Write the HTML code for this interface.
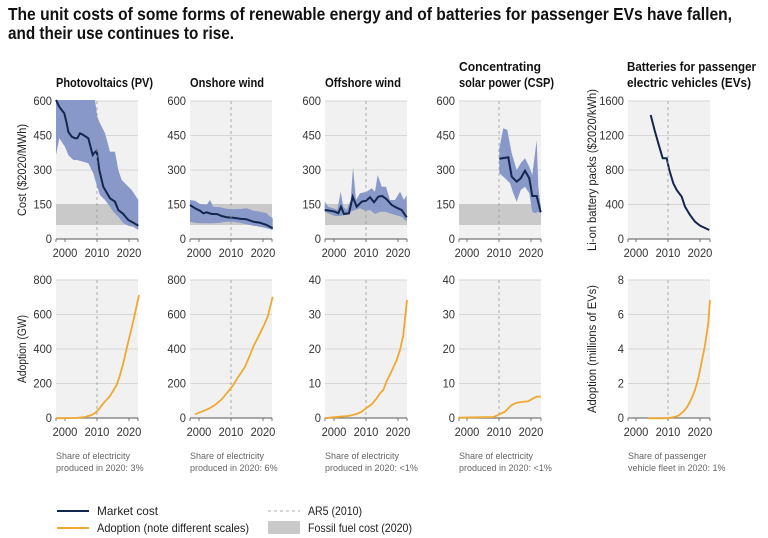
<!DOCTYPE html>
<html><head><meta charset="utf-8">
<style>
html,body{margin:0;padding:0;background:#fff;}
svg{display:block;font-family:"Liberation Sans Narrow","Liberation Sans",sans-serif;}
</style></head>
<body>
<svg id="s" width="768" height="538" viewBox="0 0 768 538" xmlns="http://www.w3.org/2000/svg">
<text x="8" y="20" font-size="17.5" font-weight="bold" fill="#111" textLength="724" lengthAdjust="spacingAndGlyphs">The unit costs of some forms of renewable energy and of batteries for passenger EVs have fallen,</text>
<text x="8" y="39" font-size="17.5" font-weight="bold" fill="#111" textLength="226" lengthAdjust="spacingAndGlyphs">and their use continues to rise.</text>
<g id="g"></g>
</svg>
<script>
var NS="http://www.w3.org/2000/svg",G=document.getElementById("g");
function el(t,a,txt){var e=document.createElementNS(NS,t);for(var k in a)e.setAttribute(k,a[k]);if(txt!==undefined)e.textContent=txt;G.appendChild(e);return e;}
function pts(list,ox,oy){return list.map(function(p){return (ox+p[0]/3).toFixed(1)+","+(oy+p[1]/3).toFixed(1);}).join(" ");}
var panels=[{x:56,m:97,lx:52},{x:190,m:231,lx:186},{x:325,m:366,lx:321},{x:459,m:499,lx:455},{x:628,m:668,lx:624}];
var W=82,BLUE="#8798c9",NAVY="#13264e",OR="#f0a830";
function t(x,y,s,txt,extra){var a={x:x,y:y,"font-size":s,fill:"#111"};for(var k in extra)a[k]=extra[k];return el("text",a,txt);}
function tl(x,y,txt,len){return t(x,y,13,txt,{"font-weight":"bold",textLength:len,lengthAdjust:"spacingAndGlyphs"});}
tl(56,87,"Photovoltaics (PV)",97);
tl(190,87,"Onshore wind",74);
tl(325,87,"Offshore wind",76);
tl(459,71,"Concentrating",82);
tl(459,87,"solar power (CSP)",95);
tl(627,71,"Batteries for passenger",129);
tl(627,87,"electric vehicles (EVs)",124);
function lab(x,y,txt,anchor){var n=txt.length;return t(x,y,11.5,txt,{"text-anchor":anchor,fill:"#333",textLength:n*6.2,lengthAdjust:"spacingAndGlyphs"});}
function frame(p,top,bot,labels){
  el("rect",{x:p.x,y:top,width:W,height:bot-top,fill:"#f1f1f1"});
  for(var i=0;i<labels.length;i++){
    var y=bot-(bot-top)*i/(labels.length-1);
    if(i>0)el("line",{x1:p.x,x2:p.x+W,y1:y,y2:y,stroke:"#d6d6d6","stroke-width":1});
    lab(p.lx,y+4,labels[i],"end");
  }
}
function axis(p,top,bot){
  el("line",{x1:p.m,x2:p.m,y1:top,y2:bot,stroke:"#999","stroke-width":0.8,"stroke-dasharray":"3,3"});
  el("line",{x1:p.x,x2:p.x+W,y1:bot,y2:bot,stroke:"#777","stroke-width":1.2});
  [-32,0,32].forEach(function(d,i){var x=p.m+d;el("line",{x1:x,x2:x,y1:bot,y2:bot+3,stroke:"#777"});
    lab(x,bot+18,["2000","2010","2020"][i],"middle");});
  el("line",{x1:p.x,x2:p.x,y1:bot,y2:bot+3,stroke:"#777"});el("line",{x1:p.x+W,x2:p.x+W,y1:bot,y2:bot+3,stroke:"#777"});
}
var c6=["0","150","300","450","600"];
for(var i=0;i<4;i++){frame(panels[i],101,239,c6);}
frame(panels[4],101,239,["0","400","800","1200","1600"]);
for(var i=0;i<4;i++)el("rect",{x:panels[i].x,y:204,width:W,height:21,fill:"#c9c9c9"});
// PV
el("polygon",{points:pts([[168,120],[285,120],[292,170],[300,190],[315,220],[330,275],[345,275],[355,330],[365,360],[380,375],[395,390],[415,420],[415,510],[400,500],[385,497],[370,490],[355,470],[340,455],[330,440],[315,420],[300,405],[290,375],[280,340],[265,310],[250,305],[230,300],[220,300],[205,285],[195,260],[178,235],[168,285]],0,60),fill:BLUE});
el("polyline",{points:pts([[168,120],[178,140],[185,150],[193,160],[200,190],[205,215],[215,230],[225,235],[232,235],[240,220],[250,225],[265,235],[278,285],[282,280],[290,272],[298,330],[310,380],[330,415],[345,425],[355,450],[370,462],[385,480],[400,488],[415,497]],0,60),fill:"none",stroke:NAVY,"stroke-width":2});
// Onshore
el("polygon",{points:pts([[570,420],[585,422],[600,432],[620,434],[630,420],[640,440],[660,442],[680,446],[700,448],[720,447],[740,445],[760,452],[780,455],[800,460],[810,470],[818,475],[818,510],[800,505],[780,500],[760,497],[740,493],[720,488],[700,485],[680,485],[660,488],[640,490],[620,490],[600,490],[585,488],[570,485]],0,60),fill:BLUE});
el("polyline",{points:pts([[570,435],[585,445],[600,452],[610,460],[620,457],[635,462],[650,462],[665,468],[680,472],[700,473],[720,476],[740,478],[760,485],[780,488],[800,495],[818,505]],0,60),fill:"none",stroke:NAVY,"stroke-width":2});
// Offshore
el("polygon",{points:pts([[134,425],[145,440],[160,445],[172,450],[182,395],[190,440],[200,450],[212,420],[219,322],[228,420],[240,400],[260,395],[275,385],[285,395],[293,345],[305,380],[318,380],[330,420],[345,420],[360,395],[372,420],[380,405],[380,485],[365,470],[345,465],[330,460],[315,455],[300,455],[285,462],[270,450],[255,452],[240,445],[225,450],[210,455],[195,465],[180,468],[165,468],[150,462],[134,455]],280,60),fill:BLUE});
el("polyline",{points:pts([[134,450],[150,452],[165,455],[175,460],[183,440],[192,462],[207,460],[218,410],[230,440],[245,425],[258,422],[270,412],[282,427],[295,410],[307,408],[320,418],[335,435],[350,443],[365,450],[380,472]],280,60),fill:"none",stroke:NAVY,"stroke-width":2});
// CSP
el("polygon",{points:pts([[658,265],[670,205],[682,210],[695,280],[710,330],[722,310],[735,295],[748,320],[757,345],[770,240],[775,380],[782,440],[782,460],[775,455],[765,460],[757,455],[748,400],[735,380],[722,390],[710,425],[700,400],[690,370],[675,355],[658,340]],280,60),fill:BLUE});
el("polyline",{points:pts([[658,296],[685,292],[695,350],[710,365],[722,355],[735,332],[748,355],[757,408],[770,408],[782,457]],280,60),fill:"none",stroke:NAVY,"stroke-width":2});
// EV
el("polyline",{points:pts([[1112,165],[1125,215],[1138,260],[1148,295],[1160,295],[1168,330],[1180,370],[1190,390],[1205,410],[1215,440],[1230,465],[1245,485],[1260,497],[1288,510]],280,60),fill:"none",stroke:NAVY,"stroke-width":2});
for(var i=0;i<5;i++)axis(panels[i],101,239);
// bottom row
frame(panels[0],280,418,["0","200","400","600","800"]);
frame(panels[1],280,418,["0","200","400","600","800"]);
frame(panels[2],280,418,["0","10","20","30","40"]);
frame(panels[3],280,418,["0","10","20","30","40"]);
frame(panels[4],280,418,["0","2","4","6","8"]);
for(var i=0;i<5;i++)axis(panels[i],280,418);
function ol(s){el("polyline",{points:s,fill:"none",stroke:OR,"stroke-width":1.8});}
ol(pts([[168,460],[230,459],[255,456],[275,450],[285,444],[295,435],[310,415],[330,393],[350,360],[360,330],[370,295],[380,250],[392,200],[403,155],[417,90]],0,265));
ol(pts([[585,448],[605,440],[625,432],[645,420],[665,403],[680,385],[690,373],[700,360],[712,340],[722,325],[735,305],[750,270],[760,245],[775,215],[790,185],[803,155],[818,95]],0,265));
ol(pts([[975,460],[1000,457],[1020,455],[1045,453],[1070,447],[1085,440],[1100,428],[1115,418],[1130,400],[1140,385],[1150,375],[1160,348],[1175,318],[1190,285],[1200,255],[1210,210],[1221,105]],0,265));
ol(pts([[175,458],[280,456],[290,452],[300,447],[315,440],[325,430],[335,420],[350,413],[365,411],[385,409],[400,400],[410,395],[422,395]],400,265));
ol(pts([[745,460],[800,460],[820,457],[835,452],[850,440],[862,425],[875,400],[885,375],[895,340],[905,290],[915,240],[925,175],[930,105]],400,265));
// axis titles
function at(x,y,txt,len){t(0,0,11.5,txt,{transform:"translate("+x+","+y+") rotate(-90)","text-anchor":"middle",fill:"#222",textLength:len,lengthAdjust:"spacingAndGlyphs"});}
at(26,170,"Cost ($2020/MWh)",92);
at(596,170,"Li-on battery packs ($2020/kWh)",162);
at(26,349,"Adoption (GW)",68);
at(596,349,"Adoption (millions of EVs)",128);
// footnotes
var fn=[["Share of electricity","produced in 2020: 3%"],["Share of electricity","produced in 2020: 6%"],["Share of electricity","produced in 2020: <1%"],["Share of electricity","produced in 2020: <1%"],["Share of passenger","vehicle fleet in 2020: 1%"]];
for(var i=0;i<5;i++){t(panels[i].x,459,9,fn[i][0],{fill:"#666"});t(panels[i].x,471,9,fn[i][1],{fill:"#666"});}
// legend
el("line",{x1:57,x2:89,y1:511,y2:511,stroke:NAVY,"stroke-width":2});
el("line",{x1:57,x2:89,y1:528,y2:528,stroke:OR,"stroke-width":2});
t(97,515,12,"Market cost",{fill:"#222",textLength:61,lengthAdjust:"spacingAndGlyphs"});
t(97,532,12,"Adoption (note different scales)",{fill:"#222",textLength:152,lengthAdjust:"spacingAndGlyphs"});
el("line",{x1:268,x2:300,y1:511,y2:511,stroke:"#999","stroke-width":0.8,"stroke-dasharray":"3,3"});
el("rect",{x:268,y:521,width:32,height:13,fill:"#c9c9c9"});
t(308,515,12,"AR5 (2010)",{fill:"#222",textLength:54,lengthAdjust:"spacingAndGlyphs"});
t(308,532,12,"Fossil fuel cost (2020)",{fill:"#222",textLength:104,lengthAdjust:"spacingAndGlyphs"});
</script>
</body></html>
